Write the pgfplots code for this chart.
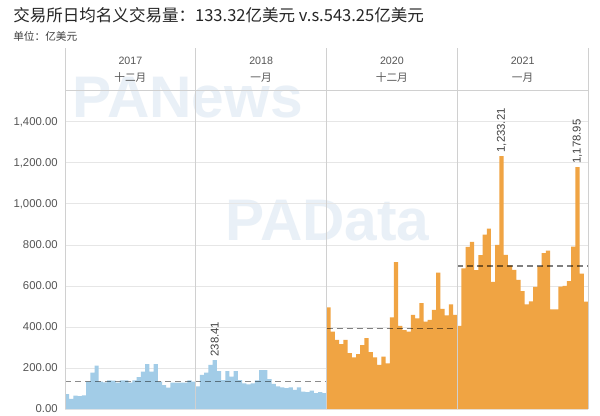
\documentclass[border=0pt]{standalone}
\usepackage{pgfplots}
\pgfplotsset{compat=1.18}
\usepackage{fontspec}
\setmainfont{Liberation Sans}
\newfontfamily\cjk{Noto Sans CJK SC}
\definecolor{barblue}{RGB}{162,204,231}
\definecolor{barorange}{RGB}{240,164,67}
\definecolor{txtgray}{RGB}{85,85,85}
\definecolor{gridgray}{RGB}{230,230,230}
\definecolor{divgray}{RGB}{208,208,208}
\definecolor{wm}{RGB}{233,240,247}
\begin{document}
\begin{tikzpicture}
\useasboundingbox (0pt,0pt) rectangle (450pt,311.25pt);
\fill[white] (0pt,0pt) rectangle (450pt,311.25pt);
\node[anchor=west, inner sep=0, font=\cjk\fontsize{12.4}{14}\selectfont, text=black!85] at (9.75pt,300pt) {交易所日均名义交易量：133.32亿美元 v.s.543.25亿美元};
\node[anchor=west, inner sep=0, font=\cjk\fontsize{8}{10}\selectfont, text=black!75] at (9.75pt,284.25pt) {单位：亿美元};
\node[font=\bfseries\fontsize{44}{44}\selectfont, text=wm] at (140.6pt,237.75pt) {PANews};
\node[font=\bfseries\fontsize{44}{44}\selectfont, text=wm] at (245.6pt,145.5pt) {PAData};
\begin{axis}[
  at={(48.75pt,4.5pt)}, anchor=south west,
  scale only axis, width=392.25pt, height=270.75pt,
  xmin=0, xmax=124, ymin=0, ymax=1760,
  axis line style={draw=none},
  major tick length=0pt,
  xtick=\empty,
  ytick={0,200,...,1400},
  ymajorgrids, grid style={gridgray, line width=0.6pt},
  yticklabel style={font=\fontsize{8.5}{10}\selectfont, text=txtgray, xshift=-2pt},
  yticklabel style={/pgf/number format/.cd, fixed, fixed zerofill, precision=2, 1000 sep={,}, assume math mode=true},
  clip=false,
]
\addplot[ybar, bar width=1, bar shift=0, fill=barblue, draw=none] coordinates {
(0.5,72)(1.5,49)(2.5,65)(3.5,63)(4.5,66)(5.5,133)(6.5,177)(7.5,211)(8.5,133)(9.5,130)(10.5,140)(11.5,138)(12.5,128)(13.5,140)(14.5,140)(15.5,128)(16.5,140)(17.5,156)(18.5,182)(19.5,219)(20.5,182)(21.5,219)(22.5,133)(23.5,117)(24.5,104)(25.5,128)(26.5,128)(27.5,128)(28.5,128)(29.5,140)(30.5,133)};
\addplot[ybar, bar width=1, bar shift=0, fill=barblue, draw=none] coordinates {
(31.5,110)(32.5,166)(33.5,177)(34.5,215)(35.5,238.41)(36.5,185)(37.5,141)(38.5,185)(39.5,158)(40.5,185)(41.5,141)(42.5,125)(43.5,120)(44.5,125)(45.5,140)(46.5,190)(47.5,190)(48.5,146)(49.5,122)(50.5,110)(51.5,106)(52.5,102)(53.5,106)(54.5,93)(55.5,106)(56.5,85)(57.5,82)(58.5,90)(59.5,77)(60.5,82)(61.5,77)};
\addplot[ybar, bar width=1, bar shift=0, fill=barorange, draw=none] coordinates {
(62.5,496)(63.5,377)(64.5,337)(65.5,316)(66.5,337)(67.5,272)(68.5,252)(69.5,267)(70.5,312)(71.5,345)(72.5,277)(73.5,252)(74.5,215)(75.5,255)(76.5,223)(77.5,447)(78.5,716)(79.5,405)(80.5,385)(81.5,377)(82.5,459)(83.5,442)(84.5,516)(85.5,426)(86.5,434)(87.5,483)(88.5,665)(89.5,488)(90.5,456)(91.5,510)(92.5,459)};
\addplot[ybar, bar width=1, bar shift=0, fill=barorange, draw=none] coordinates {
(93.5,405)(94.5,685)(95.5,790)(96.5,815)(97.5,677)(98.5,750)(99.5,850)(100.5,880)(101.5,620)(102.5,800)(103.5,1233.21)(104.5,751)(105.5,700)(106.5,678)(107.5,629)(108.5,575)(109.5,510)(110.5,525)(111.5,595)(112.5,695)(113.5,760)(114.5,772)(115.5,486)(116.5,486)(117.5,597)(118.5,600)(119.5,623)(120.5,792)(121.5,1178.95)(122.5,660)(123.5,523)};
\addplot[sharp plot, no marks, black, opacity=0.45, line width=1.1pt, dash pattern=on 4.5pt off 3pt] coordinates {(0,133.32)(62,133.32)};
\addplot[sharp plot, no marks, black, opacity=0.5, line width=1.1pt, dash pattern=on 4.5pt off 3pt] coordinates {(62,393.6)(93,393.6)};
\addplot[sharp plot, no marks, black, opacity=0.5, line width=1.1pt, dash pattern=on 4.5pt off 3pt] coordinates {(93,698.1)(124,698.1)};
\draw[divgray, line width=0.6pt] (axis cs:0,0) -- (axis cs:0,1760);
\draw[divgray, line width=0.6pt] (axis cs:31,0) -- (axis cs:31,1760);
\draw[divgray, line width=0.6pt] (axis cs:62,0) -- (axis cs:62,1760);
\draw[divgray, line width=0.6pt] (axis cs:93,0) -- (axis cs:93,1760);
\draw[divgray, line width=0.6pt] (axis cs:124,0) -- (axis cs:124,1760);
\draw[divgray, line width=0.6pt] (axis cs:0,1551) -- (axis cs:124,1551);
\node[font=\fontsize{8}{10}\selectfont, text=txtgray] at (axis cs:15.5,1698) {2017};
\node[font=\fontsize{8}{10}\selectfont, text=txtgray] at (axis cs:46.5,1698) {2018};
\node[font=\fontsize{8}{10}\selectfont, text=txtgray] at (axis cs:77.5,1698) {2020};
\node[font=\fontsize{8}{10}\selectfont, text=txtgray] at (axis cs:108.5,1698) {2021};
\node[font=\cjk\fontsize{8}{10}\selectfont, text=txtgray] at (axis cs:15.5,1615) {十二月};
\node[font=\cjk\fontsize{8}{10}\selectfont, text=txtgray] at (axis cs:46.5,1615) {一月};
\node[font=\cjk\fontsize{8}{10}\selectfont, text=txtgray] at (axis cs:77.5,1615) {十二月};
\node[font=\cjk\fontsize{8}{10}\selectfont, text=txtgray] at (axis cs:108.5,1615) {一月};
\node[rotate=90, anchor=west, inner sep=2.5pt, font=\fontsize{8.5}{10}\selectfont, text=black!75] at (axis cs:35.5,238.41) {238.41};
\node[rotate=90, anchor=west, inner sep=2.5pt, font=\fontsize{8.5}{10}\selectfont, text=black!75] at (axis cs:103.5,1233.21) {1,233.21};
\node[rotate=90, anchor=west, inner sep=2.5pt, font=\fontsize{8.5}{10}\selectfont, text=black!75] at (axis cs:121.5,1178.95) {1,178.95};
\end{axis}
\end{tikzpicture}
\end{document}
